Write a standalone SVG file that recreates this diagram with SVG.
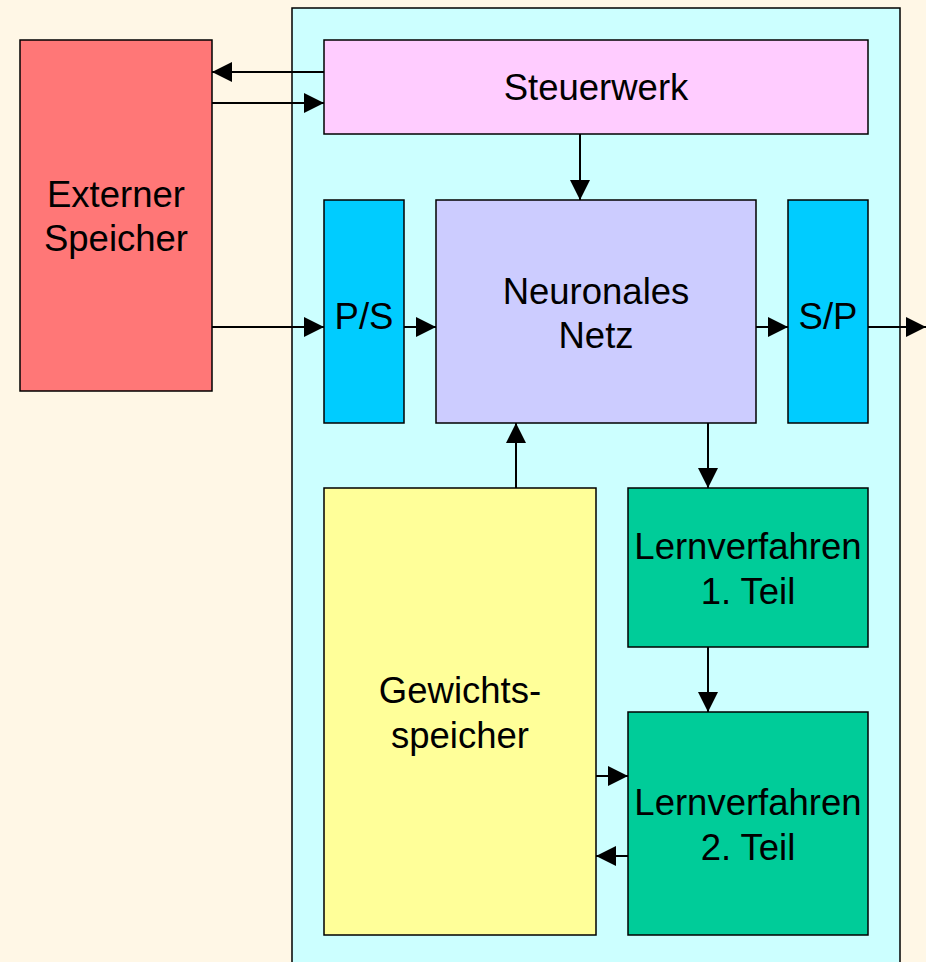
<svg xmlns="http://www.w3.org/2000/svg" width="926" height="962" viewBox="0 0 926 962">
<defs>
<marker id="ah" markerWidth="20" markerHeight="20" refX="20" refY="10" orient="auto" markerUnits="userSpaceOnUse">
<path d="M0,0 L20,10 L0,20 Z" fill="#000"/>
</marker>
<style>
.box{stroke:#000;stroke-width:1.5}
.t{font-family:"Liberation Sans",Arial,sans-serif;font-size:36.5px;fill:#000;text-anchor:middle}
.c{stroke:#000;stroke-width:2;fill:none;marker-end:url(#ah)}
</style>
</defs>
<rect x="0" y="0" width="926" height="962" fill="#FFF7E6"/>
<g id="container"><rect x="292" y="8" width="608" height="970" fill="#CCFFFF" stroke="#000" stroke-width="1.5"/></g>
<g id="extspeicher"><rect class="box" x="20" y="40" width="192" height="351" fill="#FF7777"/><text class="t" x="116" y="207">Externer</text><text class="t" x="116" y="251">Speicher</text></g>
<g id="steuerwerk"><rect class="box" x="324" y="40" width="544" height="94" fill="#FFCCFF"/><text class="t" x="596" y="100">Steuerwerk</text></g>
<g id="ps"><rect class="box" x="324" y="200" width="80" height="223" fill="#00CCFF"/><text class="t" x="364" y="329">P/S</text></g>
<g id="netz"><rect class="box" x="436" y="200" width="320" height="223" fill="#CCCCFF"/><text class="t" x="596" y="304">Neuronales</text><text class="t" x="596" y="348">Netz</text></g>
<g id="sp"><rect class="box" x="788" y="200" width="80" height="223" fill="#00CCFF"/><text class="t" x="828" y="329">S/P</text></g>
<g id="gewicht"><rect class="box" x="324" y="488" width="272" height="447" fill="#FFFF99"/><text class="t" x="460" y="703">Gewichts-</text><text class="t" x="460" y="748">speicher</text></g>
<g id="lern1"><rect class="box" x="628" y="488" width="240" height="159" fill="#00CC99"/><text class="t" x="748" y="559">Lernverfahren</text><text class="t" x="748" y="604">1. Teil</text></g>
<g id="lern2"><rect class="box" x="628" y="712" width="240" height="223" fill="#00CC99"/><text class="t" x="748" y="815">Lernverfahren</text><text class="t" x="748" y="860">2. Teil</text></g>
<g id="connectors">
<path class="c" d="M324,72 H212"/>
<path class="c" d="M212,103 H324"/>
<path class="c" d="M580,134 V200"/>
<path class="c" d="M212,327 H324"/>
<path class="c" d="M404,327 H436"/>
<path class="c" d="M756,327 H788"/>
<path class="c" d="M868,327 H926"/>
<path class="c" d="M516,488 V423"/>
<path class="c" d="M708,423 V488"/>
<path class="c" d="M708,647 V712"/>
<path class="c" d="M596,776 H628"/>
<path class="c" d="M628,856 H596"/>
</g>
</svg>
